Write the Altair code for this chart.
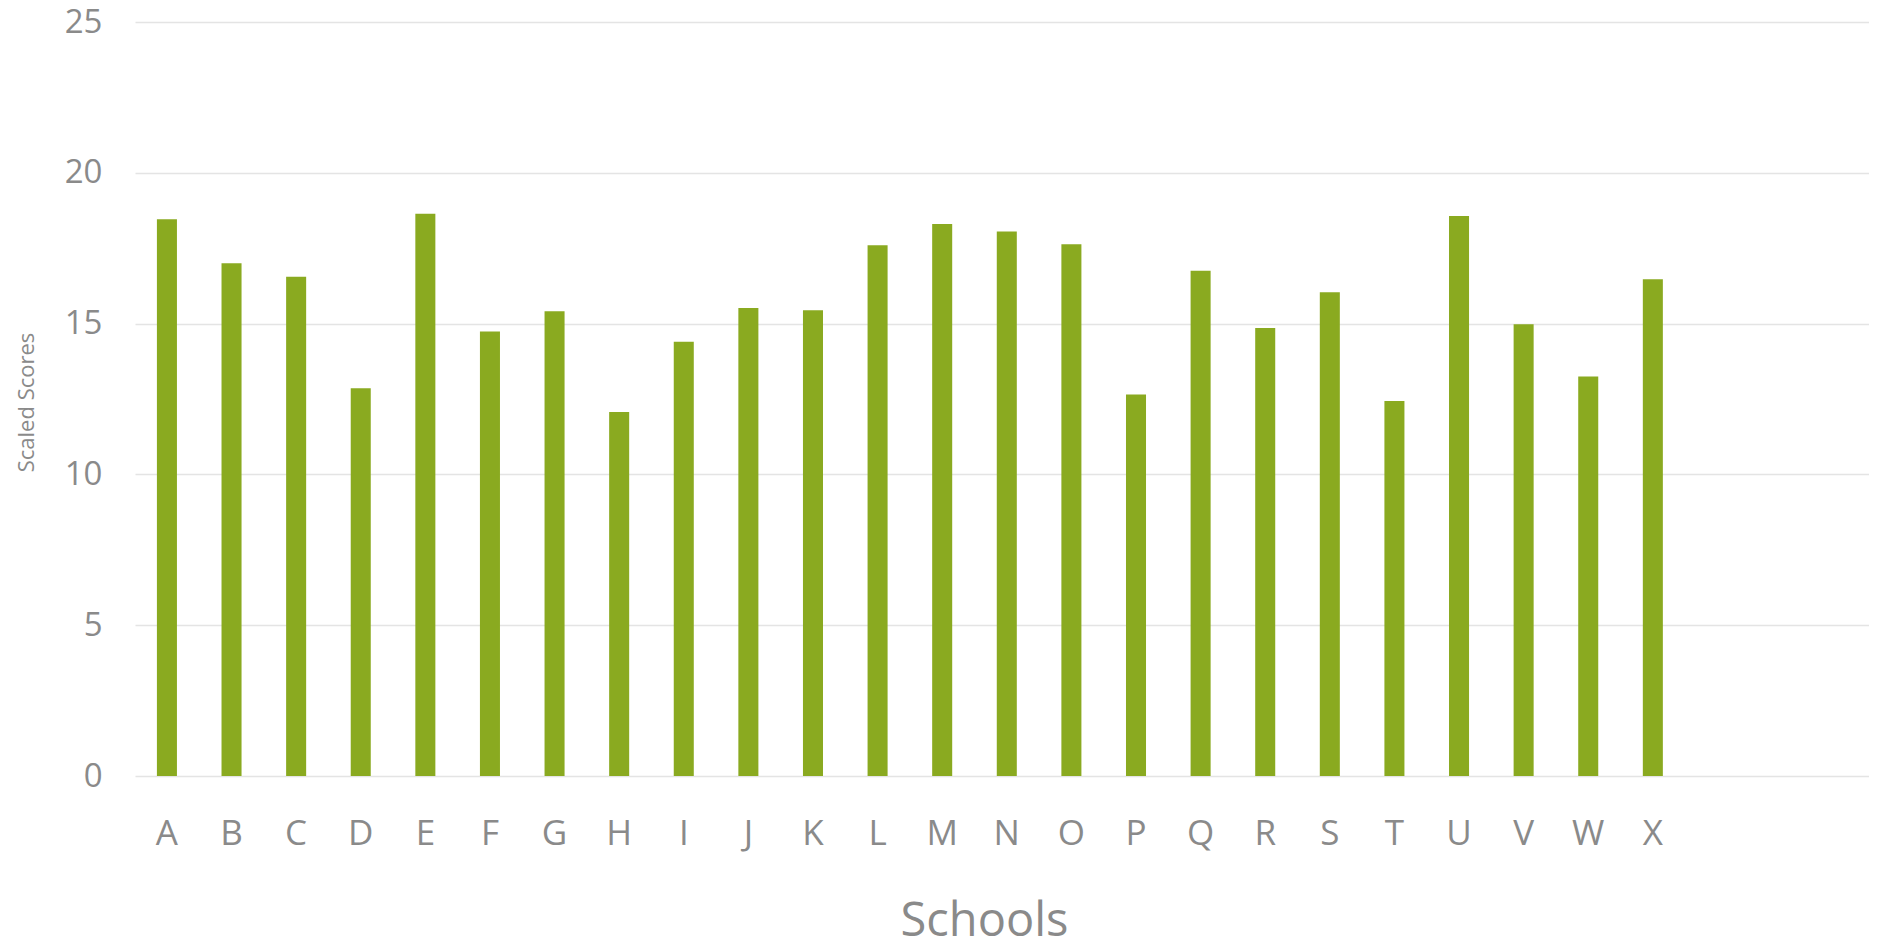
import altair as alt
import pandas as pd

schools = list("ABCDEFGHIJKLMNOPQRSTUVWX")
scores = [18.46, 17.00, 16.55, 12.86, 18.64, 14.74, 15.41, 12.07, 14.40, 15.52,
          15.44, 17.60, 18.30, 18.05, 17.63, 12.65, 16.75, 14.85, 16.04, 12.43,
          18.57, 14.98, 13.25, 16.47]
empty_slots = ["_1", "_2", "_3"]
y_ticks = [0, 5, 10, 15, 20, 25]

df = pd.DataFrame({"School": schools, "Score": scores})
FONT = "Open Sans, sans-serif"
GREY = "#8a8a8a"
domain = schools + empty_slots

chart = alt.Chart(df).mark_bar(color="#8AAA20").encode(
    x=alt.X(
        "School:N",
        sort=domain,
        scale=alt.Scale(domain=domain, paddingInner=0.69, paddingOuter=0.265, align=0.64),
        axis=alt.Axis(
            values=schools, title="Schools", labelAngle=0, ticks=False, domain=False,
            grid=False, labelFont=FONT, labelFontSize=35, labelColor=GREY,
            labelBaseline="middle", labelPadding=57,
            titleFont=FONT, titleFontSize=47, titleColor=GREY, titleFontWeight="normal",
            titleX=849, titleY=145, titleBaseline="middle", titleAlign="center",
        ),
    ),
    y=alt.Y(
        "Score:Q",
        scale=alt.Scale(domain=[0, 25]),
        axis=alt.Axis(
            values=y_ticks, title="Scaled Scores", ticks=False, domain=False,
            grid=True, gridColor="#e4e4e4", gridWidth=1.5,
            labelFont=FONT, labelFontSize=33, labelColor=GREY, labelPadding=33,
            titleFont=FONT, titleFontSize=22, titleColor=GREY, titleFontWeight="normal",
            titleX=-109, titleY=380, titleAngle=-90, titleBaseline="middle", titleAlign="center",
        ),
    ),
).properties(
    width=1734, height=754,
    padding={"left": 127, "top": 14, "right": 0, "bottom": 167},
    autosize=alt.AutoSizeParams(type="none"),
).configure_view(stroke=None)

chart.save("out.html", embed_options={"renderer": "svg", "actions": False})
